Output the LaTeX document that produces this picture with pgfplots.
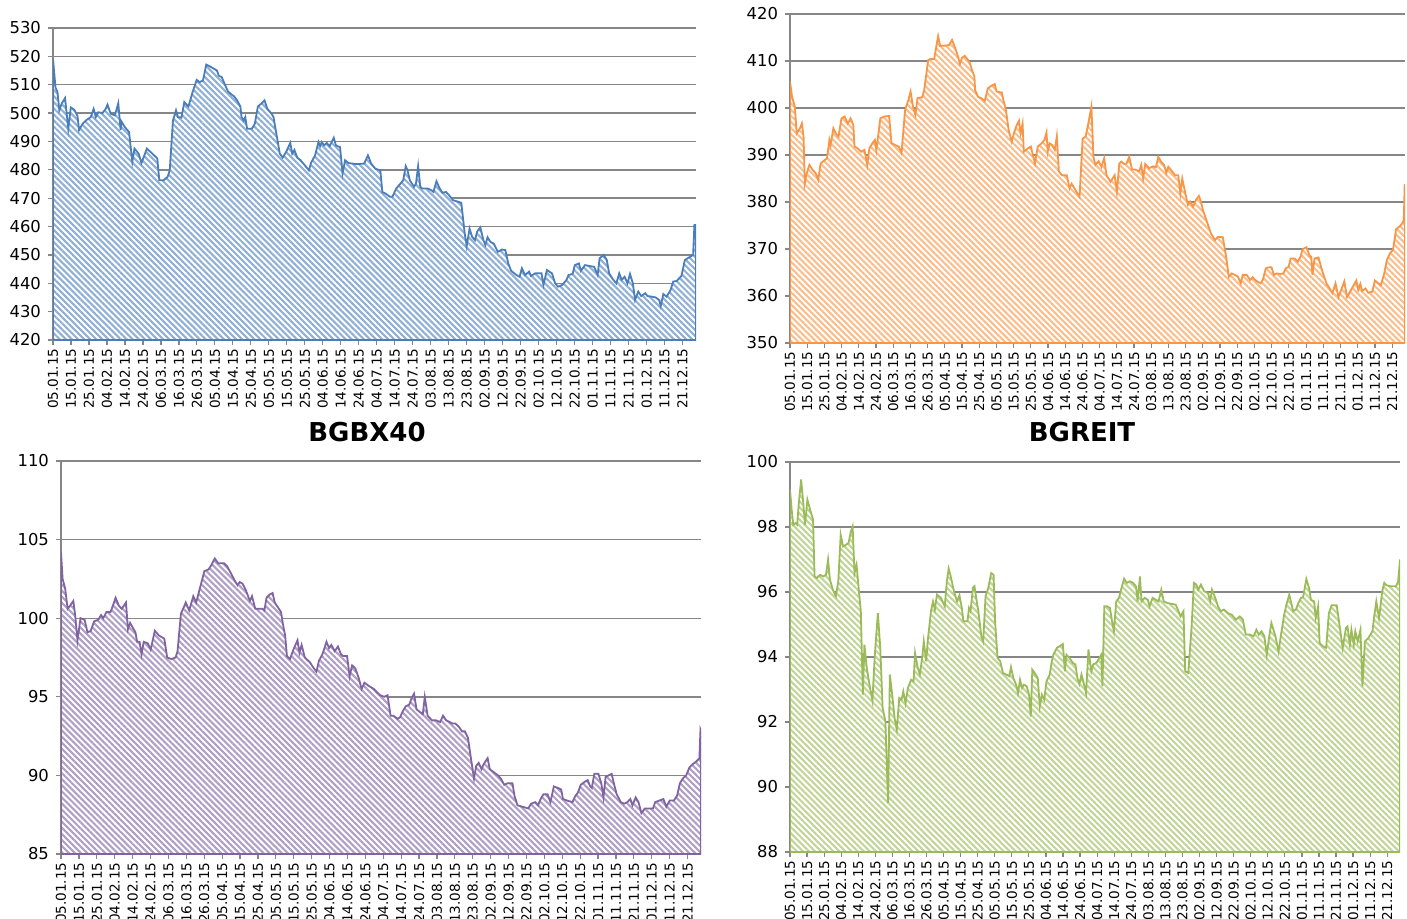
\documentclass[border=0pt]{standalone}
\usepackage{fontspec}
\setmainfont{DejaVu Sans}
\usepackage{pgfplots}
\pgfplotsset{compat=1.18}
\usepackage{pgfplotstable}
\usetikzlibrary{patterns.meta}

\definecolor{cblue}{HTML}{4A7EBB}
\definecolor{corange}{HTML}{F79646}
\definecolor{cpurple}{HTML}{8064A2}
\definecolor{cgreen}{HTML}{9BBB59}
\definecolor{gridgray}{HTML}{868686}

% day of year 2015 / index value
\pgfplotstableread{
d v
5.0 519.1
6.4 509.0
7.5 507.4
8.5 501.0
9.8 503.3
11.7 505.3
13.5 494.5
14.9 502.0
16.8 501.2
18.6 499.0
19.5 494.0
21.4 496.2
23.7 497.6
26.0 498.6
27.6 501.5
28.8 498.6
30.2 500.3
32.5 500.0
34.3 501.5
35.3 503.0
37.1 499.8
39.4 499.2
41.3 503.5
42.6 494.0
43.1 497.0
45.0 495.0
47.3 493.3
49.1 482.8
50.3 487.5
52.6 485.7
54.2 482.4
57.2 487.5
60.2 485.7
63.0 484.0
64.1 476.3
66.4 476.3
68.7 477.5
69.9 479.8
71.7 497.4
73.4 501.0
74.5 498.6
76.4 498.4
78.0 503.9
80.3 502.3
82.6 507.4
84.9 511.7
86.5 510.9
88.4 511.5
90.2 517.1
93.0 516.2
96.2 515.0
97.1 513.2
98.8 512.7
100.4 510.3
102.2 507.7
104.1 506.6
105.7 505.9
107.3 504.5
109.2 502.3
109.8 498.6
111.0 497.4
111.9 498.6
112.9 494.5
115.6 494.5
117.2 496.2
118.9 502.3
120.7 503.3
122.6 504.5
124.2 501.5
126.5 499.8
127.6 498.6
129.5 491.6
131.1 485.7
132.7 484.3
134.6 486.3
136.9 489.5
138.0 485.7
139.2 487.0
140.8 484.3
142.6 483.4
145.0 481.6
147.3 479.8
148.4 482.4
150.7 485.1
152.6 489.8
153.5 488.3
154.4 489.8
155.8 488.6
157.2 489.5
158.8 488.3
161.1 491.3
162.3 488.6
164.6 488.0
166.0 478.7
167.4 483.4
169.2 482.4
173.8 482.0
178.0 482.2
180.1 485.1
181.9 482.2
184.2 480.4
187.0 479.8
188.1 472.2
190.0 471.6
192.3 470.5
193.7 470.5
195.8 473.4
198.1 475.1
199.7 476.3
201.1 481.3
202.0 480.1
203.4 476.3
205.7 474.0
206.8 475.1
208.0 481.3
209.2 474.0
210.3 473.4
213.5 473.4
215.4 472.8
216.5 472.2
218.2 476.0
220.0 473.4
221.6 471.9
223.5 472.2
225.1 471.1
227.4 469.3
230.4 468.7
232.0 468.4
233.9 457.6
235.0 453.1
236.6 459.3
238.0 456.4
239.6 455.2
240.8 458.2
242.6 459.7
244.3 455.2
245.4 453.5
246.6 456.2
248.2 454.6
250.0 454.0
252.3 451.1
254.7 451.9
256.5 451.7
258.1 447.0
259.7 444.4
262.7 442.9
264.4 442.3
265.7 445.3
267.4 442.9
269.7 444.1
270.8 442.6
273.1 443.5
276.6 443.5
277.7 439.4
279.6 444.7
282.4 443.5
284.2 440.0
285.8 438.8
288.1 439.4
290.5 441.2
291.6 442.9
293.9 443.3
295.1 446.4
297.4 447.0
298.5 444.4
300.8 446.4
303.2 446.1
305.9 445.8
307.8 442.9
308.9 448.8
311.2 450.0
312.9 448.2
314.2 443.5
316.5 441.2
318.2 440.0
319.8 443.5
321.2 441.2
322.8 442.3
324.4 440.0
325.8 443.3
327.4 440.0
328.6 434.1
330.4 437.1
332.0 435.5
334.3 436.5
335.5 435.5
337.8 435.3
340.1 435.0
342.0 434.1
342.9 432.0
344.3 436.2
346.1 435.3
348.2 437.4
349.8 440.6
351.7 440.8
354.4 442.6
356.3 448.2
358.6 449.1
360.9 450.0
361.6 460.5
362.5 460.5
}\bgbx

\pgfplotstableread{
d v
5.0 405.6
6.2 402.4
7.8 400.3
8.9 394.6
10.8 395.7
11.9 396.7
12.9 393.9
13.6 384.0
14.7 386.1
16.3 387.9
18.2 386.8
20.0 386.1
21.4 384.7
22.8 388.2
25.1 388.9
26.5 389.3
27.9 393.2
28.6 392.1
30.2 395.7
31.6 394.6
33.2 393.9
34.9 397.8
36.7 398.2
38.6 396.7
40.2 397.8
41.8 396.4
42.5 391.8
44.4 391.4
46.4 390.7
48.3 391.1
49.9 387.9
51.1 391.4
52.9 392.5
54.3 393.2
55.2 391.1
57.5 397.8
59.9 398.2
62.6 398.3
64.0 392.5
66.3 392.1
68.2 391.8
69.8 390.4
71.9 399.6
73.8 401.7
75.1 403.5
76.5 400.3
77.9 398.5
79.1 402.1
81.9 402.3
83.0 403.8
85.3 410.2
86.5 410.4
88.8 410.4
90.0 413.0
91.1 415.3
92.3 413.2
95.7 413.3
97.4 413.4
99.2 414.5
101.1 412.7
102.7 410.9
103.8 409.4
105.0 410.7
106.6 411.1
108.5 410.2
109.6 409.5
110.8 408.1
112.2 406.7
112.6 403.8
114.3 402.4
116.1 402.1
118.2 401.5
120.0 404.2
121.9 404.7
124.0 405.1
125.1 403.5
128.1 403.3
129.3 401.3
130.5 399.6
132.1 395.3
133.9 392.8
135.1 394.6
136.7 396.3
138.1 397.3
139.0 394.6
140.2 396.7
140.9 390.7
143.2 391.4
145.0 391.8
147.4 388.2
149.0 391.8
151.3 392.5
152.9 393.2
154.1 394.8
154.8 390.7
155.9 392.5
157.5 392.1
158.9 391.1
160.1 394.0
161.3 386.5
163.1 385.7
165.9 385.7
167.5 382.9
168.7 383.9
171.0 382.5
173.3 381.1
175.1 393.5
176.8 393.9
178.4 396.7
180.2 400.3
181.4 389.6
182.5 387.9
184.4 388.7
186.0 387.5
187.6 389.3
189.0 385.7
191.3 384.3
193.7 385.7
195.0 382.2
196.4 388.2
197.6 388.6
199.2 388.1
200.6 388.2
202.2 389.6
203.8 386.9
205.7 386.9
208.0 386.5
209.2 387.9
210.3 385.0
211.5 388.1
213.8 387.2
216.1 387.6
217.7 387.4
219.1 389.6
220.7 388.6
222.4 387.9
223.8 386.2
224.9 387.5
226.5 386.8
228.8 385.7
230.7 385.7
231.9 381.8
233.0 385.0
234.6 382.2
236.3 379.4
237.6 380.1
239.3 379.0
240.9 380.4
242.7 381.3
243.9 380.1
245.0 378.3
247.4 375.8
249.7 373.3
252.0 371.9
253.8 372.6
256.6 372.5
258.5 368.4
260.1 364.1
261.7 364.8
263.6 364.5
265.4 364.1
267.0 362.7
268.2 364.5
270.5 364.5
272.4 363.4
274.0 364.0
275.1 363.5
277.0 363.0
278.6 362.7
279.8 363.4
281.6 365.9
283.2 366.1
284.9 366.1
286.3 364.5
287.9 364.8
290.2 364.7
291.8 364.8
293.2 365.9
294.8 366.2
296.0 368.0
298.3 368.0
300.1 367.3
301.8 368.4
302.9 369.9
305.2 370.4
307.1 368.5
308.0 368.4
308.7 364.5
309.9 368.0
312.2 368.2
314.5 365.2
316.8 362.7
318.7 361.6
320.3 360.6
322.1 362.7
323.8 359.8
325.6 361.5
327.2 363.1
328.8 359.8
330.7 361.0
332.5 362.2
334.2 363.3
335.3 361.3
336.5 362.6
337.6 361.1
339.5 361.6
341.1 360.7
343.4 360.9
345.0 363.3
346.9 362.7
348.5 362.3
350.4 364.8
352.0 367.7
353.8 369.1
355.5 369.8
357.3 374.2
359.6 374.9
361.3 375.7
361.8 376.3
362.3 383.6
362.5 383.6
}\bgreit

\pgfplotstableread{
d v
5.0 104.2
5.9 102.5
7.3 101.9
8.7 100.6
10.1 100.8
11.9 101.1
12.9 100.2
14.2 98.6
15.9 100.0
18.2 99.9
19.8 99.1
21.6 99.2
23.5 99.8
25.8 99.9
27.4 100.2
28.6 100.0
30.4 100.4
32.7 100.4
34.3 100.9
35.5 101.3
37.3 100.8
38.9 100.6
41.3 101.0
42.4 99.3
43.6 99.7
46.6 99.1
47.5 98.5
48.9 98.5
50.0 97.7
51.2 98.5
53.5 98.4
55.1 98.0
57.4 99.2
59.7 98.9
62.7 98.7
64.3 97.5
66.7 97.4
69.0 97.5
70.1 97.9
72.0 100.3
73.6 100.7
74.7 101.0
76.6 100.5
78.9 101.4
80.5 101.0
82.8 102.0
85.1 103.0
87.4 103.1
89.1 103.4
90.9 103.8
92.8 103.5
96.0 103.5
97.8 103.3
100.2 102.8
102.0 102.4
103.6 102.1
104.8 102.3
106.4 102.2
108.2 101.8
110.5 101.1
111.7 101.4
113.5 100.6
115.2 100.6
117.5 100.6
118.6 100.5
119.8 101.3
121.4 101.5
123.2 101.6
124.4 101.0
126.7 100.6
127.9 100.4
129.0 99.6
130.2 98.9
131.2 97.6
132.9 97.4
134.8 98.0
137.1 98.6
138.2 97.8
139.4 98.3
141.2 97.5
144.0 97.2
146.3 96.8
147.7 96.6
149.1 97.3
151.0 97.7
153.3 98.5
154.7 98.1
156.0 98.3
157.9 97.9
159.7 98.2
161.4 97.7
162.5 97.6
164.8 97.6
166.2 96.3
167.6 97.0
169.4 96.8
171.3 96.2
172.9 95.5
174.5 95.9
176.8 95.7
179.8 95.5
181.4 95.3
183.3 95.1
185.6 95.0
187.4 95.1
189.1 93.8
190.7 93.8
193.0 93.6
194.4 93.7
196.0 94.1
197.6 94.4
199.5 94.5
200.8 94.9
202.2 95.2
203.6 94.2
205.9 94.0
207.1 93.9
208.2 95.0
209.8 93.8
212.2 93.5
214.5 93.5
216.8 93.4
218.4 93.8
220.2 93.5
222.1 93.4
223.7 93.3
225.3 93.3
227.2 93.1
229.0 92.8
230.6 92.8
232.3 92.4
234.1 91.0
235.7 89.8
236.9 90.6
238.3 90.8
239.9 90.4
241.0 90.7
243.3 91.1
244.5 90.4
246.8 90.2
249.1 90.0
250.7 89.8
252.6 89.4
254.4 89.5
257.2 89.5
258.3 88.7
260.0 88.1
263.0 88.0
266.0 87.9
267.6 88.2
269.9 88.3
271.5 88.1
272.9 88.5
274.5 88.8
276.8 88.8
278.4 88.3
280.3 89.3
282.6 89.2
284.4 89.1
285.4 88.5
287.7 88.4
290.7 88.3
292.3 88.7
293.7 88.9
295.3 89.4
297.6 89.6
299.2 89.7
300.6 89.3
301.5 89.2
302.9 90.1
305.2 90.1
306.8 89.5
308.0 88.6
309.2 89.9
310.8 90.0
312.6 90.1
313.8 89.5
315.4 88.8
317.7 88.3
319.5 88.2
321.4 88.3
323.0 88.5
324.2 88.1
326.0 88.6
327.6 88.3
329.2 87.6
331.1 87.9
333.4 87.9
335.7 87.9
336.9 88.3
339.2 88.4
341.5 88.5
343.1 88.0
345.0 88.4
347.3 88.4
349.1 88.7
350.7 89.5
352.3 89.8
354.2 90.0
356.0 90.5
357.7 90.7
360.0 90.9
361.6 91.1
362.2 92.9
362.5 92.8
}\bgbxlow

\pgfplotstableread{
d v
5.0 99.15
5.9 98.58
6.9 98.07
8.2 98.12
9.2 98.07
10.1 98.69
11.5 99.46
12.7 98.79
13.8 98.07
15.2 98.84
16.8 98.53
18.5 98.23
19.4 96.48
20.8 96.43
22.6 96.53
24.5 96.48
26.1 96.53
27.3 97.00
28.4 96.38
30.1 96.07
31.9 95.87
33.3 96.33
34.7 97.76
36.1 97.40
37.7 97.45
39.3 97.51
40.7 97.87
41.7 98.02
42.8 96.58
44.0 96.84
45.4 96.02
46.5 95.41
47.7 92.84
48.6 94.38
50.0 93.66
51.9 93.05
53.3 92.66
54.7 94.07
56.5 95.35
57.9 94.28
59.3 92.43
60.9 92.02
62.5 89.51
63.5 93.46
64.9 92.84
66.3 92.12
67.6 91.76
69.0 92.74
70.4 92.69
71.4 92.94
72.7 92.58
74.1 93.05
76.0 93.30
77.4 93.25
78.3 94.12
79.7 93.71
81.1 93.46
82.5 94.00
83.4 94.48
84.8 93.87
85.7 94.48
87.6 95.41
88.8 95.71
89.9 95.46
91.1 95.92
93.4 95.82
95.7 95.56
96.9 96.33
98.0 96.72
99.2 96.48
101.1 96.02
102.9 95.71
104.3 95.90
105.7 95.51
106.6 95.10
109.0 95.10
109.9 95.51
110.8 95.41
112.2 96.13
113.1 96.18
114.3 95.76
115.4 95.41
117.1 94.64
118.2 94.48
119.6 95.87
121.2 96.13
122.9 96.58
124.3 96.53
125.2 95.10
126.6 93.97
128.2 93.87
129.8 93.51
131.7 93.46
133.5 93.41
134.5 93.69
135.9 93.35
137.5 93.15
138.6 92.89
139.8 93.30
141.0 93.05
142.1 93.15
143.7 93.10
145.1 92.84
146.1 92.17
147.0 93.61
148.4 93.51
150.2 93.35
151.4 92.48
152.6 92.84
154.0 92.69
155.3 93.25
157.2 93.46
158.4 93.87
159.5 94.09
161.4 94.28
163.0 94.33
164.9 94.40
166.1 93.56
167.0 94.07
168.8 93.97
170.7 93.82
172.3 93.77
173.4 93.35
174.6 93.17
175.8 93.46
176.9 93.25
178.5 92.89
179.9 94.23
181.6 93.56
182.7 93.77
184.6 93.82
186.2 93.97
187.4 94.07
188.1 93.10
189.2 95.56
190.8 95.56
192.5 95.51
193.9 95.05
194.8 94.79
196.2 95.71
197.8 95.82
199.0 96.07
200.8 96.41
202.4 96.28
204.1 96.33
205.9 96.29
207.8 96.17
208.7 95.71
210.1 96.48
211.0 95.71
212.9 95.82
214.7 95.76
215.7 95.56
217.5 95.82
219.4 95.76
221.0 95.71
222.6 96.07
224.0 95.71
226.3 95.66
229.1 95.63
231.0 95.61
231.9 95.51
233.8 95.25
235.6 95.41
236.6 93.56
238.4 93.51
240.3 94.89
241.7 96.28
243.1 96.23
244.2 96.07
245.8 96.23
247.7 96.02
250.0 95.97
251.2 95.71
252.3 96.07
254.2 95.82
255.8 95.56
257.4 95.41
259.3 95.46
261.6 95.35
263.9 95.30
266.3 95.15
268.6 95.25
270.4 95.15
272.1 94.69
274.4 94.69
276.7 94.64
278.3 94.84
279.7 94.69
281.3 94.79
283.0 94.64
284.4 94.07
286.0 94.69
287.1 95.05
289.5 94.64
291.3 94.17
292.9 94.74
294.6 95.30
295.9 95.61
297.6 95.92
299.9 95.41
301.5 95.46
302.9 95.66
304.5 95.82
305.7 95.84
307.6 96.40
309.2 96.12
310.3 95.76
312.2 95.71
313.1 95.20
314.5 95.56
315.4 94.43
317.3 94.33
319.2 94.28
320.8 95.35
322.4 95.59
325.4 95.59
327.0 95.00
328.9 94.28
330.8 94.89
331.7 94.94
333.1 94.38
334.0 94.84
335.4 94.38
336.3 94.79
337.7 94.48
339.3 94.84
340.5 93.10
341.9 94.48
344.0 94.59
346.3 94.79
347.5 95.30
348.6 95.71
350.2 95.20
352.1 96.03
353.3 96.28
354.4 96.21
356.7 96.18
360.2 96.18
361.4 96.33
362.5 97.00
}\bgreitlow

\pgfplotsset{
  panel/.style={
    scale only axis,
    anchor=south west,
    xmin=5, xmax=362.5,
    axis x line=bottom, axis y line=left,
    axis line style={-, draw=gridgray, line width=0.8pt},
    xtick={5,15,...,355},
    xticklabels={05.01.15,15.01.15,25.01.15,04.02.15,14.02.15,24.02.15,06.03.15,16.03.15,26.03.15,05.04.15,15.04.15,25.04.15,05.05.15,15.05.15,25.05.15,04.06.15,14.06.15,24.06.15,04.07.15,14.07.15,24.07.15,03.08.15,13.08.15,23.08.15,02.09.15,12.09.15,22.09.15,02.10.15,12.10.15,22.10.15,01.11.15,11.11.15,21.11.15,01.12.15,11.12.15,21.12.15},
    x tick label style={rotate=90, anchor=east, font=\fontsize{6.8}{8}\selectfont, inner sep=1.5pt},
    y tick label style={font=\fontsize{8.2}{10}\selectfont},
    tick align=outside,
    major tick length=2.5pt,
    tick style={draw=gridgray, line width=0.6pt},
    ymajorgrids,
    grid style={draw=gridgray, line width=0.7pt},
    /pgf/number format/assume math mode=true,
  },
  bg/.style={fill=white, draw=none},
  area/.style={pattern={Lines[angle=-45,distance=2.15pt,line width=1.05pt]}, pattern color=#1!62, draw=#1, line width=0.9pt},
}

\begin{document}
\begin{tikzpicture}
\useasboundingbox (0,0) rectangle (703.5pt,459pt);

\begin{axis}[panel, at={(26.5pt,289pt)}, width=321.5pt, height=156pt,
  ymin=420, ymax=530, ytick={420,430,...,530}]
  \addplot[bg] table[x=d,y=v]{\bgbx} \closedcycle;
  \addplot[area=cblue] table[x=d,y=v]{\bgbx} \closedcycle;
\end{axis}

\begin{axis}[panel, at={(395pt,287.5pt)}, width=307.5pt, height=164.5pt,
  ymin=350, ymax=420, ytick={350,360,...,420}]
  \addplot[bg] table[x=d,y=v]{\bgreit} \closedcycle;
  \addplot[area=corange] table[x=d,y=v]{\bgreit} \closedcycle;
\end{axis}

\begin{axis}[panel, at={(30.5pt,32pt)}, width=320pt, height=196.5pt,
  ymin=85, ymax=110, ytick={85,90,...,110}]
  \addplot[bg] table[x=d,y=v]{\bgbxlow} \closedcycle;
  \addplot[area=cpurple] table[x=d,y=v]{\bgbxlow} \closedcycle;
\end{axis}

\begin{axis}[panel, at={(395pt,33pt)}, width=305pt, height=195pt,
  ymin=88, ymax=100, ytick={88,90,...,100}]
  \addplot[bg] table[x=d,y=v]{\bgreitlow} \closedcycle;
  \addplot[area=cgreen] table[x=d,y=v]{\bgreitlow} \closedcycle;
\end{axis}

\node[font=\bfseries\fontsize{13}{15}\selectfont] at (183.5pt,243pt) {BGBX40};
\node[font=\bfseries\fontsize{13}{15}\selectfont] at (541pt,243pt) {BGREIT};
\end{tikzpicture}
\end{document}
